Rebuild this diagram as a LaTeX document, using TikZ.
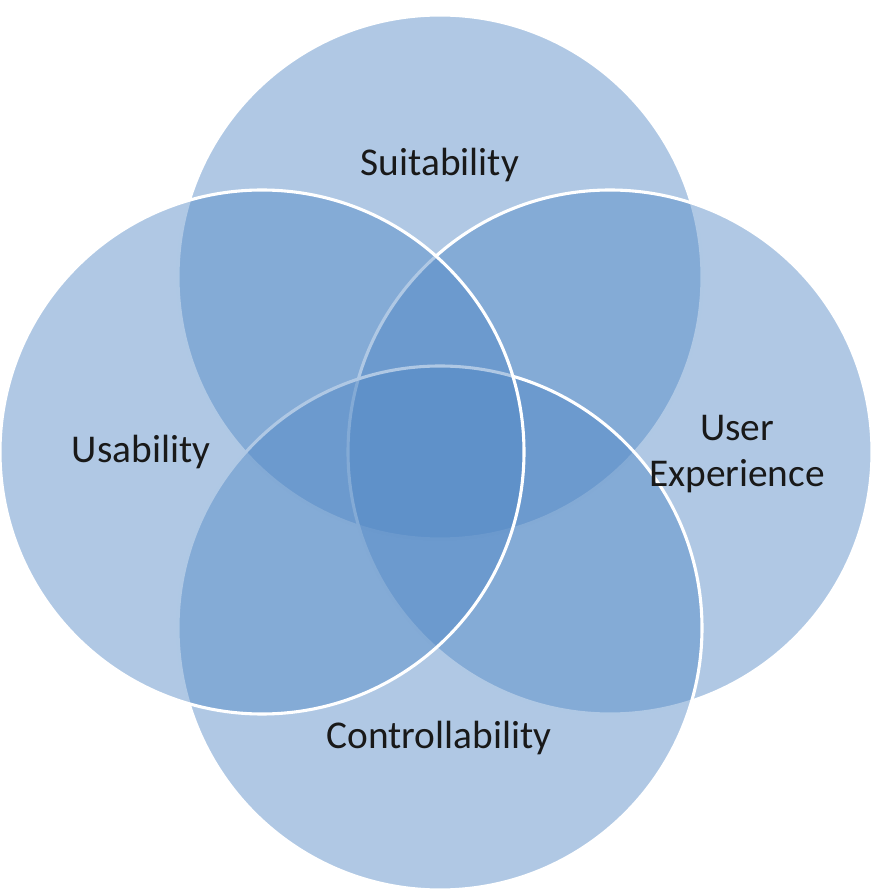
\documentclass[tikz,border=0pt]{standalone}
\usepackage{fontspec}
\setmainfont{Carlito}
\usepackage{tikz}
\definecolor{vennblue}{RGB}{79,134,196}
\tikzset{ring/.style={draw=white,line width=2.2pt,fill=vennblue,fill opacity=.45},lbl/.style={font=\fontsize{28}{32.5}\selectfont,align=center,text=black!90,inner sep=0pt}}

\begin{document}
\begin{tikzpicture}[x=1cm,y=1cm]
\useasboundingbox (0,0) rectangle (21.75,22.3);
\foreach \x/\y in {11/15.375,15.25/11,11/6.6,6.55/11}{\draw[ring] (\x,\y) circle (6.55);}
\node[lbl] (suit) at (11,18.175) {Suitability};
\node[lbl] (usex) at (18.425,10.95) {User\\Experience};
\node[lbl] (ctrl) at (10.975,3.85) {Controllability};
\node[lbl] (usab) at (3.525,11) {Usability};
\end{tikzpicture}
\end{document}
